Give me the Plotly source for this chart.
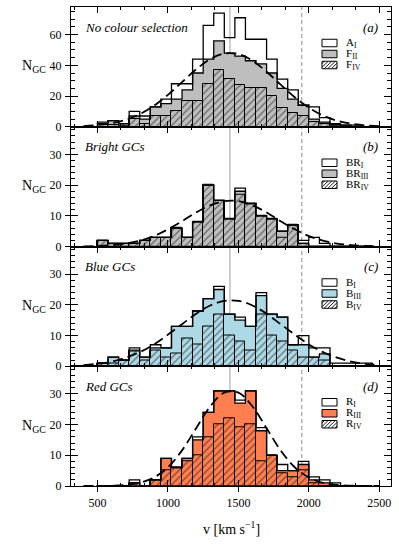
import plotly.graph_objects as go
from plotly.subplots import make_subplots

# ---------------- data ----------------
BIN_EDGES = [500, 575, 650, 725, 800, 875, 950, 1025, 1100, 1175, 1250, 1325, 1400,
             1475, 1550, 1625, 1700, 1775, 1850, 1925, 2000, 2075, 2150, 2225, 2300,
             2375, 2450]

A_I  = [3, 4, 2, 10, 7, 13, 18, 28, 28, 44, 66, 74, 58, 71, 57, 57, 44, 31, 24, 14, 13, 6, 2, 1, 1, 0]
F_II = [2, 4, 1, 7, 5, 13, 15, 18, 24, 35, 44, 56, 48, 46, 43, 41, 35, 25, 18, 14, 5, 3, 1, 1, 0, 0]
F_IV = [0, 1, 2, 5, 2, 7, 7, 10, 17, 17, 28, 37, 31, 27, 25, 25, 20, 12, 9, 7, 3, 2, 1, 0, 0, 0]

BR_I   = [2, 1, 1, 1, 2, 3, 3, 6, 3, 8, 20, 15, 9, 19, 14, 10, 9, 5, 7, 2, 3, 1, 0, 0, 0, 0]
BR_III = [2, 1, 1, 1, 2, 3, 3, 6, 3, 8, 20, 15, 9, 18, 14, 10, 9, 5, 7, 1, 0, 0, 0, 0, 0, 0]
BR_IV  = [2, 1, 1, 1, 2, 3, 3, 6, 3, 8, 20, 15, 9, 17, 14, 10, 9, 3, 7, 1, 0, 0, 0, 0, 0, 0]

B_I   = [1, 3, 2, 6, 3, 7, 6, 13, 13, 18, 22, 26, 17, 16, 13, 24, 17, 16, 7, 10, 6, 6, 1, 1, 1, 1]
B_III = [1, 3, 2, 5, 3, 6, 6, 13, 13, 18, 22, 25, 17, 15, 13, 23, 17, 16, 7, 7, 3, 4, 0, 0, 0, 0]
B_IV  = [1, 1, 2, 5, 2, 5, 3, 4, 9, 7, 13, 17, 10, 8, 5, 17, 10, 8, 5, 3, 3, 2, 0, 0, 0, 0]

R_I   = [0, 0, 0, 2, 0, 2, 9, 6, 9, 16, 24, 31, 31, 28, 31, 19, 10, 7, 5, 8, 3, 2, 1, 0, 0, 0]
R_III = [0, 0, 0, 1, 0, 2, 9, 6, 9, 15, 24, 31, 31, 27, 31, 18, 10, 5, 5, 7, 2, 1, 0, 0, 0, 0]
R_IV  = [0, 0, 0, 1, 0, 2, 5, 6, 8, 10, 16, 20, 22, 19, 20, 8, 10, 4, 3, 5, 1, 0, 0, 0, 0, 0]

# dashed Gaussian curves
CURVE_X = [400, 500, 600, 700, 800, 900, 1000, 1100, 1200, 1300, 1400, 1500, 1600,
           1700, 1800, 1900, 2000, 2100, 2200, 2300, 2400, 2500]
CURVE_A = [0.4, 1.1, 2.3, 4.5, 8.2, 13.6, 20.8, 29.1, 37.4, 44.1, 47.7, 47.3, 43.0,
           35.8, 27.4, 19.2, 12.4, 7.3, 3.9, 2.0, 0.9, 0.4]
CURVE_B = [0.07, 0.18, 0.44, 0.96, 1.9, 3.4, 5.6, 8.2, 11.1, 13.4, 14.8, 14.8, 13.4,
           11.1, 8.2, 5.6, 3.4, 1.9, 0.96, 0.44, 0.18, 0.07]
CURVE_C = [0.38, 0.8, 1.5, 2.8, 4.6, 7.1, 10.3, 13.7, 17.1, 19.8, 21.3, 21.3, 19.8,
           17.1, 13.7, 10.3, 7.1, 4.6, 2.8, 1.5, 0.8, 0.38]
CURVE_D = [0.0, 0.02, 0.1, 0.34, 1.06, 2.76, 6.1, 11.6, 18.8, 25.9, 30.4, 30.4, 25.9,
           18.8, 11.6, 6.1, 2.76, 1.06, 0.34, 0.1, 0.02, 0.0]

V_SYS = 1440      # solid grey line
V_1404 = 1950     # dashed grey line

PANEL_TITLES = ["No colour selection", "Bright GCs", "Blue GCs", "Red GCs"]
PANEL_TAGS = ["(a)", "(b)", "(c)", "(d)"]
LEGEND_TEXT = [["A<sub>I</sub>", "F<sub>II</sub>", "F<sub>IV</sub>"],
               ["BR<sub>I</sub>", "BR<sub>III</sub>", "BR<sub>IV</sub>"],
               ["B<sub>I</sub>", "B<sub>III</sub>", "B<sub>IV</sub>"],
               ["R<sub>I</sub>", "R<sub>III</sub>", "R<sub>IV</sub>"]]

X_TICKS = [500, 1000, 1500, 2000, 2500]
Y_TICKS = [[0, 20, 40, 60], [0, 10, 20, 30], [0, 10, 20, 30], [0, 10, 20, 30]]
Y_MINOR = [5, 2, 2, 2]
Y_RANGES = [[0, 78], [0, 39], [0, 39], [0, 39]]
X_RANGE = [312, 2583]

# ---------------- styles ----------------
FONT = "Liberation Serif"
FILLS = ["#BEBEBE", "#BEBEBE", "#ADD8E6", "#FF7F50"]
W, H = 399, 558
ML, MR, MT, MB = 71, 8, 7, 72
PW = W - ML - MR
PH = (H - MT - MB) / 4.0

panels = [(A_I, F_II, F_IV, CURVE_A), (BR_I, BR_III, BR_IV, CURVE_B),
          (B_I, B_III, B_IV, CURVE_C), (R_I, R_III, R_IV, CURVE_D)]

fig = make_subplots(rows=4, cols=1, shared_xaxes=True, vertical_spacing=0)

centers = [(BIN_EDGES[i] + BIN_EDGES[i + 1]) / 2 for i in range(len(BIN_EDGES) - 1)]
widths = [BIN_EDGES[i + 1] - BIN_EDGES[i] for i in range(len(BIN_EDGES) - 1)]


def step_xy(counts):
    xs = [BIN_EDGES[0]] + BIN_EDGES[:-1] + [BIN_EDGES[-1]]
    ys = [0] + list(counts) + [0]
    return xs, ys


for r, (c1, c3, c4, curve) in enumerate(panels, start=1):
    # coloured fill of the III histogram (bars, no outline)
    fig.add_trace(go.Bar(x=centers, y=c3, width=widths,
                         marker=dict(color=FILLS[r - 1], line=dict(width=0)),
                         showlegend=False, hoverinfo="skip"), row=r, col=1)
    # hatched IV histogram
    fig.add_trace(go.Bar(x=centers, y=c4, width=widths,
                         marker=dict(color="rgba(0,0,0,0)", line=dict(color="black", width=1),
                                     pattern=dict(shape="/", fgcolor="black", size=5, solidity=0.22)),
                         showlegend=False, hoverinfo="skip"), row=r, col=1)
    # step outlines of I and III
    xs, ys = step_xy(c1)
    fig.add_trace(go.Scatter(x=xs, y=ys, mode="lines", line=dict(shape="hv", color="black", width=1.3),
                             showlegend=False, hoverinfo="skip"), row=r, col=1)
    xs, ys = step_xy(c3)
    fig.add_trace(go.Scatter(x=xs, y=ys, mode="lines", line=dict(shape="hv", color="black", width=1.3),
                             showlegend=False, hoverinfo="skip"), row=r, col=1)
    fig.add_trace(go.Scatter(x=CURVE_X, y=curve, mode="lines",
                             line=dict(shape="spline", color="black", width=1.8, dash="10px,5px"),
                             showlegend=False, hoverinfo="skip"), row=r, col=1)

fig.update_layout(barmode="overlay", bargap=0)

# axes
for r in range(1, 5):
    sfx = "" if r == 1 else str(r)
    fig.layout["xaxis" + sfx].update(
        range=X_RANGE, showline=True, linecolor="black", linewidth=1.3, mirror="ticks",
        ticks="inside", ticklen=6, tickwidth=1.1, tickcolor="black", tickvals=X_TICKS,
        minor=dict(ticks="inside", ticklen=3, tickwidth=1, tickcolor="black", tick0=500, dtick=500 / 3),
        showgrid=False, zeroline=False, showticklabels=(r == 4), automargin=False,
        tickfont=dict(family=FONT, size=12, color="black"), ticklabelstandoff=5)
    fig.layout["yaxis" + sfx].update(
        range=Y_RANGES[r - 1], showline=True, linecolor="black", linewidth=1.3, mirror="ticks",
        ticks="inside", ticklen=7, tickwidth=1.1, tickcolor="black", tickvals=Y_TICKS[r - 1],
        minor=dict(ticks="inside", ticklen=4, tickwidth=1, tickcolor="black", tick0=0, dtick=Y_MINOR[r - 1]),
        showgrid=False, zeroline=False, automargin=False,
        tickfont=dict(family=FONT, size=12, color="black"), ticklabelstandoff=6)
    # outward part of the major ticks on the left
    xa = "x" + sfx
    ya_over = "y" + str(4 + r)
    fig.layout["yaxis" + str(4 + r)] = dict(
        overlaying="y" + sfx, anchor=xa, side="left", range=Y_RANGES[r - 1], tickvals=Y_TICKS[r - 1],
        ticks="outside", ticklen=5, tickwidth=1.1, tickcolor="black", showticklabels=False,
        showline=False, showgrid=False, zeroline=False, automargin=False)
    fig.add_trace(go.Scatter(x=[None], y=[None], xaxis=xa, yaxis=ya_over, showlegend=False,
                             hoverinfo="skip"))

fig.layout["xaxis5"] = dict(overlaying="x4", anchor="y4", side="bottom", range=X_RANGE, tickvals=X_TICKS,
                            ticks="outside", ticklen=5, tickwidth=1.1, tickcolor="black",
                            showticklabels=False, showline=False, showgrid=False, zeroline=False,
                            automargin=False)
fig.add_trace(go.Scatter(x=[None], y=[None], xaxis="x5", yaxis="y4", showlegend=False, hoverinfo="skip"))

# vertical reference lines
fig.add_shape(type="line", xref="x4", yref="paper", x0=V_SYS, x1=V_SYS, y0=0, y1=1,
              line=dict(color="#A8A8A8", width=1.1), layer="below")
fig.add_shape(type="line", xref="x4", yref="paper", x0=V_1404, x1=V_1404, y0=0, y1=1,
              line=dict(color="#808080", width=0.9, dash="4px,3px"), layer="below")


def dx(px):
    return (px - ML) / PW


def dy(off):
    return 1 - off / PH


ROW_OFF = [36, 47, 58]
BOX_X0, BOX_X1, BOX_H = 322, 337, 7.5

for r in range(1, 5):
    sfx = "" if r == 1 else str(r)
    xdom = "x" + sfx + " domain"
    ydom = "y" + sfx + " domain"
    fig.add_annotation(xref=xdom, yref=ydom, x=dx(83), y=dy(20), text="<i>" + PANEL_TITLES[r - 1] + "</i>",
                       showarrow=False, xanchor="left", yanchor="middle",
                       font=dict(family=FONT, size=13, color="black"))
    fig.add_annotation(xref=xdom, yref=ydom, x=dx(380), y=dy(20), text="<i>" + PANEL_TAGS[r - 1] + "</i>",
                       showarrow=False, xanchor="right", yanchor="middle",
                       font=dict(family=FONT, size=13, color="black"))
    fills = ["white", FILLS[r - 1], "white"]
    for k in range(3):
        off = ROW_OFF[k]
        yt, yb = off - BOX_H / 2, off + BOX_H / 2
        fig.add_shape(type="rect", xref=xdom, yref=ydom, x0=dx(BOX_X0), x1=dx(BOX_X1), y0=dy(yb), y1=dy(yt),
                      fillcolor=fills[k], line=dict(color="black", width=1), layer="above")
        if k == 2:
            w = BOX_X1 - BOX_X0
            s = -BOX_H + 2.5
            while s < w:
                u0 = max(0.0, -s)
                u1 = min(BOX_H, w - s)
                if u1 > u0:
                    fig.add_shape(type="line", xref=xdom, yref=ydom,
                                  x0=dx(BOX_X0 + s + u0), y0=dy(yb - u0),
                                  x1=dx(BOX_X0 + s + u1), y1=dy(yb - u1),
                                  line=dict(color="black", width=0.9), layer="above")
                s += 3.6
        fig.add_annotation(xref=xdom, yref=ydom, x=dx(344), y=dy(off), text=LEGEND_TEXT[r - 1][k],
                           showarrow=False, xanchor="left", yanchor="middle",
                           font=dict(family=FONT, size=11, color="black"))
    fig.add_annotation(xref="paper", yref=ydom, x=dx(34), y=0.5, text="N<sub>GC</sub>", showarrow=False,
                       xanchor="center", yanchor="middle", font=dict(family=FONT, size=14, color="black"))

fig.add_annotation(xref="paper", yref="paper", x=0.5, y=-(528 - (H - MB)) / (H - MT - MB),
                   text="v [km s<sup>−1</sup>]", showarrow=False, xanchor="center", yanchor="middle",
                   font=dict(family=FONT, size=14, color="black"))

fig.update_layout(width=W, height=H, margin=dict(l=ML, r=MR, t=MT, b=MB, autoexpand=False),
                  paper_bgcolor="white", plot_bgcolor="rgba(0,0,0,0)", showlegend=False,
                  font=dict(family=FONT, color="black"))

fig.write_html("out.html", config={"displayModeBar": False},
               post_script="document.body.style.margin='0';document.body.style.padding='0';")
